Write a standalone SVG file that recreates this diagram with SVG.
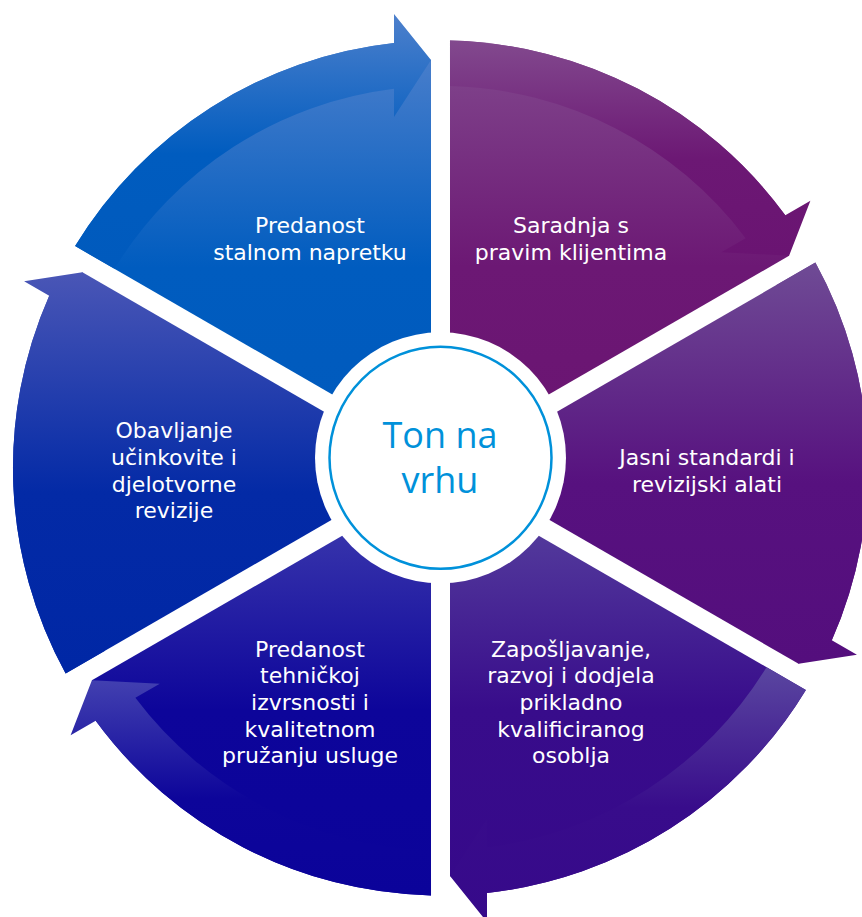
<svg xmlns="http://www.w3.org/2000/svg" width="862" height="917" viewBox="0 0 862 917">
<defs>
<style>
.lbl { font-family: "DejaVu Sans", "Liberation Sans", sans-serif; font-size: 22px; fill: #ffffff; text-anchor: middle; }
.ctr { font-family: "Open Sans", "Liberation Sans", sans-serif; font-size: 36px; fill: #0091da; text-anchor: middle; }
</style>
<linearGradient id="g0" x1="0" y1="0" x2="0" y2="1"><stop offset="0" stop-color="#4d80cc"/><stop offset="0.55" stop-color="#005cbf"/><stop offset="1" stop-color="#005abd"/></linearGradient>
<linearGradient id="g1" x1="0" y1="0" x2="0" y2="1"><stop offset="0" stop-color="#82498e"/><stop offset="0.55" stop-color="#6c1874"/><stop offset="1" stop-color="#6a1472"/></linearGradient>
<linearGradient id="g2" x1="0" y1="0" x2="0" y2="1"><stop offset="0" stop-color="#6f4b95"/><stop offset="0.55" stop-color="#57117f"/><stop offset="1" stop-color="#540e7d"/></linearGradient>
<linearGradient id="g3" x1="0" y1="0" x2="0" y2="1"><stop offset="0" stop-color="#5a46a0"/><stop offset="0.55" stop-color="#380c8b"/><stop offset="1" stop-color="#36098a"/></linearGradient>
<linearGradient id="g4" x1="0" y1="0" x2="0" y2="1"><stop offset="0" stop-color="#4240b0"/><stop offset="0.55" stop-color="#0d059a"/><stop offset="1" stop-color="#0b039a"/></linearGradient>
<linearGradient id="g5" x1="0" y1="0" x2="0" y2="1"><stop offset="0" stop-color="#4a56b6"/><stop offset="0.55" stop-color="#032aa6"/><stop offset="1" stop-color="#0027a5"/></linearGradient>
</defs>
<rect width="862" height="917" fill="#ffffff"/>

<g id="node-predanost-napretku">
<path fill="url(#g0)" d="M431,451.5 L75.1,246.1 A427.5,427.5 0 0 1 394,43 L431,60 Z"/>
<path fill="url(#g0)" d="M75.1,246.1 A427.5,427.5 0 0 1 394,43 L394,14 L431,60 L394,117 L394,88.8 A382,382 0 0 0 114.5,268.8 Z"/>
<text class="lbl" x="310" y="233.3">Predanost</text>
<text class="lbl" x="310" y="260">stalnom napretku</text>
</g>

<g id="node-saradnja">
<path fill="url(#g1)" d="M450.04,451.52 L449.97,40.61 A427.5,427.5 0 0 1 785.3,215.23 L789.08,255.77 Z"/>
<path fill="url(#g1)" d="M449.97,40.61 A427.5,427.5 0 0 1 785.3,215.23 L810.41,200.73 L789.08,255.77 L721.22,252.23 L745.64,238.13 A382,382 0 0 0 450.01,86.08 Z"/>
<text class="lbl" x="571" y="233.3">Saradnja s</text>
<text class="lbl" x="571" y="260">pravim klijentima</text>
</g>

<g id="node-jasni-standardi">
<path fill="url(#g2)" d="M459.54,468.02 L815.37,262.51 A427.5,427.5 0 0 1 831.8,640.23 L798.58,663.77 Z"/>
<path fill="url(#g2)" d="M815.37,262.51 A427.5,427.5 0 0 1 831.8,640.23 L856.91,654.73 L798.58,663.77 L767.72,603.23 L792.14,617.33 A382,382 0 0 0 776.01,285.28 Z"/>
<text class="lbl" x="707" y="465">Jasni standardi i</text>
<text class="lbl" x="707" y="491.7">revizijski alati</text>
</g>

<g id="node-zaposljavanje">
<path fill="url(#g3)" d="M450,484.5 L805.9,689.9 A427.5,427.5 0 0 1 487,893 L450,876 Z"/>
<path fill="url(#g3)" d="M805.9,689.9 A427.5,427.5 0 0 1 487,893 L487,922 L450,876 L487,819 L487,847.2 A382,382 0 0 0 766.5,667.2 Z"/>
<text class="lbl" x="571" y="656.7">Zapošljavanje,</text>
<text class="lbl" x="571" y="683.3">razvoj i dodjela</text>
<text class="lbl" x="571" y="710">prikladno</text>
<text class="lbl" x="571" y="736.7">kvalificiranog</text>
<text class="lbl" x="571" y="763.3">osoblja</text>
</g>

<g id="node-predanost-izvrsnosti">
<path fill="url(#g4)" d="M430.96,484.48 L431.03,895.39 A427.5,427.5 0 0 1 95.7,720.77 L91.92,680.23 Z"/>
<path fill="url(#g4)" d="M431.03,895.39 A427.5,427.5 0 0 1 95.7,720.77 L70.59,735.27 L91.92,680.23 L159.78,683.77 L135.36,697.87 A382,382 0 0 0 430.99,849.92 Z"/>
<text class="lbl" x="310" y="656.7">Predanost</text>
<text class="lbl" x="310" y="683.3">tehničkoj</text>
<text class="lbl" x="310" y="710">izvrsnosti i</text>
<text class="lbl" x="310" y="736.7">kvalitetnom</text>
<text class="lbl" x="310" y="763.3">pružanju usluge</text>
</g>

<g id="node-obavljanje">
<path fill="url(#g5)" d="M421.46,467.98 L65.63,673.49 A427.5,427.5 0 0 1 49.2,295.77 L82.42,272.23 Z"/>
<path fill="url(#g5)" d="M65.63,673.49 A427.5,427.5 0 0 1 49.2,295.77 L24.09,281.27 L82.42,272.23 L113.28,332.77 L88.86,318.67 A382,382 0 0 0 104.99,650.72 Z"/>
<text class="lbl" x="174" y="438.3">Obavljanje</text>
<text class="lbl" x="174" y="465">učinkovite i</text>
<text class="lbl" x="174" y="491.5">djelotvorne</text>
<text class="lbl" x="174" y="518">revizije</text>
</g>

<g id="node-center">
<circle cx="440.5" cy="457.8" r="125.5" fill="#ffffff"/>
<circle cx="440.5" cy="457.8" r="111" fill="#ffffff" stroke="#0091da" stroke-width="2.5"/>
<text class="ctr" x="440" y="448">Ton na</text>
<text class="ctr" x="440" y="493">vrhu</text>
</g>
</svg>
